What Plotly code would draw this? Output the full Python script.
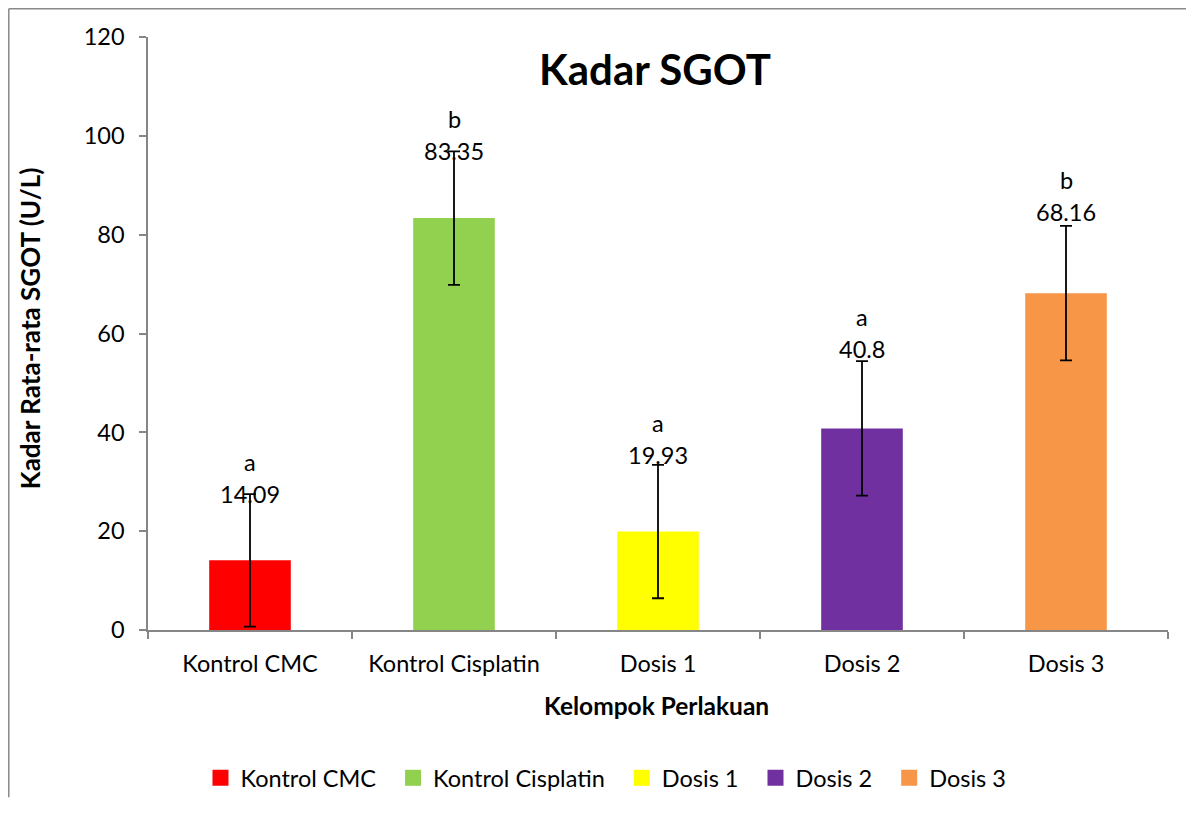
import plotly.graph_objects as go

categories = ["Kontrol CMC", "Kontrol Cisplatin", "Dosis 1", "Dosis 2", "Dosis 3"]
values = [14.09, 83.35, 19.93, 40.8, 68.16]
errors = [13.4, 13.5, 13.5, 13.6, 13.6]
letters = ["a", "b", "a", "a", "b"]
value_labels = ["14.09", "83.35", "19.93", "40.8", "68.16"]
label_y = [27.5, 96.9, 35.5, 56.8, 84.5]
colors = ["#FF0000", "#92D050", "#FFFF00", "#7030A0", "#F79646"]

FONT = "Lato"
AXIS_GRAY = "#868686"
NB = "\u00a0\u00a0"

fig = go.Figure()

fig.add_trace(go.Bar(
    x=categories, y=values, width=0.4,
    marker=dict(color=colors, line=dict(width=0)),
    error_y=dict(type="data", array=errors, visible=True,
                 color="black", thickness=1.8, width=6),
    showlegend=False, hoverinfo="x+y",
))

for i, (c, col) in enumerate(zip(categories, colors)):
    fig.add_trace(go.Scatter(
        x=[None], y=[None], mode="markers",
        name=c + (NB if i < len(categories) - 1 else ""),
        marker=dict(symbol="square", size=16, color=col),
        showlegend=True,
    ))

annotations = []
for c, lt, vl, ly in zip(categories, letters, value_labels, label_y):
    annotations.append(dict(x=c, y=ly, xref="x", yref="y", text=vl, showarrow=False,
                            font=dict(family=FONT, size=23.5, color="black"),
                            yanchor="middle", xanchor="center"))
    annotations.append(dict(x=c, y=ly, xref="x", yref="y", text=lt, showarrow=False,
                            font=dict(family=FONT, size=23.5, color="black"),
                            yanchor="middle", xanchor="center", yshift=32))

annotations.append(dict(x=-0.1157, y=0.509, xref="paper", yref="paper",
                        text="<b>Kadar Rata-rata SGOT (U/L)</b>", textangle=-90,
                        showarrow=False, font=dict(family=FONT, size=26, color="black"),
                        xanchor="center", yanchor="middle"))
annotations.append(dict(x=0.4990, y=-0.1265, xref="paper", yref="paper",
                        text="<b>Kelompok Perlakuan</b>",
                        showarrow=False, font=dict(family=FONT, size=24.5, color="black"),
                        xanchor="center", yanchor="middle"))

BORDER = dict(color="#898989", width=1.5)

fig.update_layout(
    width=1178, height=790,
    margin=dict(l=140, r=18, t=29, b=168, autoexpand=False),
    paper_bgcolor="white", plot_bgcolor="white",
    font=dict(family=FONT, size=23.5, color="black"),
    title=dict(text="<b>Kadar SGOT</b>", x=0.5492, y=1 - 62 / 790, xref="container", yref="container",
               xanchor="center", yanchor="middle",
               font=dict(family=FONT, size=42, color="black")),
    xaxis=dict(showgrid=False, showline=True, linecolor=AXIS_GRAY, linewidth=1.5,
               ticks="outside", tickson="boundaries", ticklen=7, tickcolor=AXIS_GRAY,
               tickwidth=1.5, tickfont=dict(family=FONT, size=23.5, color="black"),
               ticklabelstandoff=12, fixedrange=True),
    yaxis=dict(range=[0, 120], dtick=20, showgrid=False, showline=True, linecolor=AXIS_GRAY,
               linewidth=1.5, ticks="outside", ticklen=7, tickcolor=AXIS_GRAY, tickwidth=1.5,
               tickfont=dict(family=FONT, size=23.5, color="black"), zeroline=False,
               ticklabelstandoff=10, fixedrange=True),
    legend=dict(orientation="h", x=0.449, y=-0.2496, xanchor="center", yanchor="middle",
                font=dict(family=FONT, size=23.5, color="black"), itemwidth=30),
    annotations=annotations,
    shapes=[
        dict(type="line", xref="paper", yref="paper", x0=-0.1365, x1=1.0176, y0=1.0476, y1=1.0476,
             line=BORDER, layer="below"),
        dict(type="line", xref="paper", yref="paper", x0=-0.1365, x1=-0.1365, y0=-0.2822, y1=1.0476,
             line=BORDER, layer="below"),
    ],
)

fig.write_html("out.html")
